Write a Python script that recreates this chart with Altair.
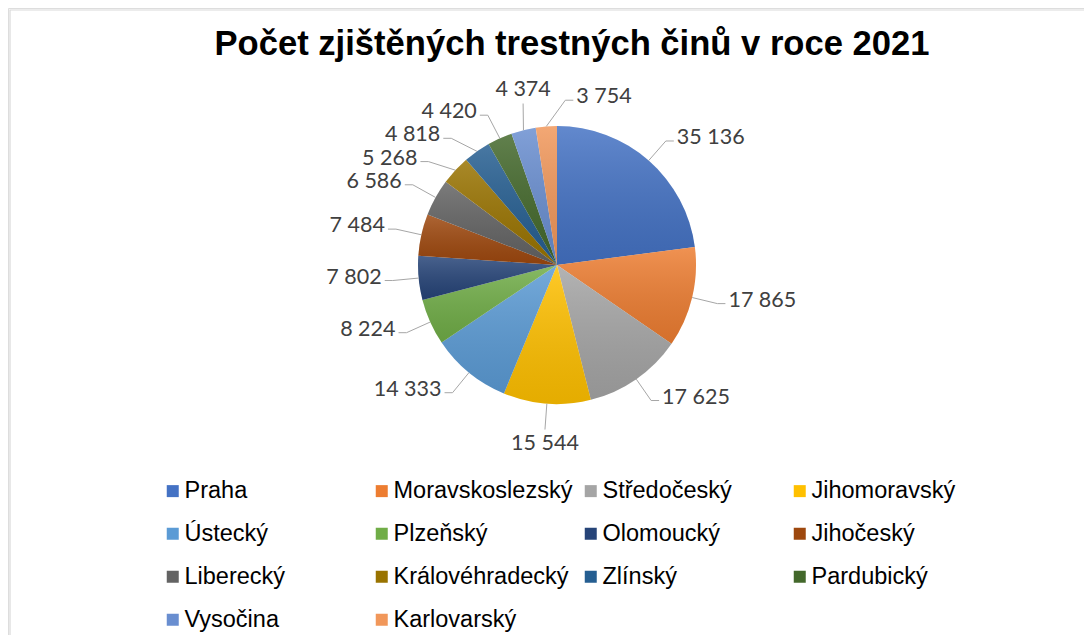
import numpy as np
import pandas as pd
import altair as alt

# ---------------- data ----------------
regions = ["Praha", "Moravskoslezský", "Středočeský", "Jihomoravský", "Ústecký",
           "Plzeňský", "Olomoucký", "Jihočeský", "Liberecký", "Královéhradecký",
           "Zlínský", "Pardubický", "Vysočina", "Karlovarský"]
counts = [35136, 17865, 17625, 15544, 14333, 8224, 7802, 7484, 6586, 5268,
          4818, 4420, 4374, 3754]
colors = ["#4472C4", "#ED7D31", "#A5A5A5", "#FFC000", "#5B9BD5", "#70AD47",
          "#264478", "#9E480E", "#636363", "#997300", "#255E91", "#43682B",
          "#698ED0", "#F1975A"]
title_text = "Počet zjištěných trestných činů v roce 2021"

# ---------------- layout constants ----------------
W, H = 1076, 627
CX, CY, R = 549, 257, 139
RA = 165          # radius where leader lines end
LH = 20           # label box height
FONT_LBL = "Lato"

df = pd.DataFrame({"region": regions, "count": counts, "idx": range(len(regions))})

# ---------------- label placement (computed from the data) ----------------
total = float(sum(counts))
cum = np.cumsum([0] + counts)
mid = [(cum[i] + counts[i] / 2) / total * 360.0 for i in range(len(counts))]
texts = [f"{v:,}".replace(",", " ") for v in counts]
widths = [sum(4.5 if ch == " " else 12.0 for ch in t) for t in texts]


def geom(b, w):
    rad = np.radians(b)
    s, c = np.sin(rad), np.cos(rad)
    ax, ay = CX + RA * s, CY - RA * c
    if s > 0.3 or (c > 0 and s > 0.05):
        side, tail = "L", (ax + 8, ay)
        tx, ty = ax + 11, ay - 3
        box = (tx, ty - LH / 2, tx + w, ty + LH / 2)
    elif s < -0.3:
        side, tail = "R", (ax - 8, ay)
        tx, ty = ax - 11, ay - 3
        box = (tx - w, ty - LH / 2, tx, ty + LH / 2)
    else:
        side, tail = "C", (ax, ay)
        tx = ax
        ty = ay - 4 - LH / 2 if c > 0 else ay + 4 + LH / 2
        box = (tx - w / 2, ty - LH / 2, tx + w / 2, ty + LH / 2)
    return side, (ax, ay), tail, (tx, ty), box


def overlap(b1, b2, px=20, py=3):
    return not (b1[2] + px < b2[0] or b2[2] + px < b1[0] or
                b1[3] + py < b2[1] or b2[3] + py < b1[1])


n = len(counts)
b = list(mid)
for it in range(8000):
    moved = False
    for i in range(n):
        j = (i + 1) % n
        gi = geom(b[i], widths[i])[4]
        gj = geom(b[j], widths[j])[4]
        if overlap(gi, gj):
            b[i] -= 0.1
            b[j] += 0.1
            moved = True
    if not moved:
        break

lbl_rows, line_rows = [], []
for i in range(n):
    side, anc, tail, tpos, box = geom(b[i], widths[i])
    rad = np.radians(mid[i])
    ex, ey = CX + R * np.sin(rad), CY - R * np.cos(rad)
    lbl_rows.append({"text": texts[i], "side": side, "tx": tpos[0], "ty": tpos[1]})
    for k, (px, py) in enumerate([(ex, ey), anc, tail]):
        line_rows.append({"lid": i, "k": k, "px": px, "py": py})
lbl_df = pd.DataFrame(lbl_rows)
line_df = pd.DataFrame(line_rows)

# ---------------- chart ----------------
frame = alt.Chart(alt.Data(values=[{}])).mark_rect(
    fill="transparent", stroke="#D9D9D9", strokeWidth=1.2
).encode(x=alt.value(2), x2=alt.value(W + 40), y=alt.value(2), y2=alt.value(H + 40))

title = alt.Chart(alt.Data(values=[{}])).mark_text(
    text=title_text, font="Liberation Sans", fontSize=34.6, fontWeight="bold",
    color="#000000", align="center", baseline="alphabetic"
).encode(x=alt.value(564), y=alt.value(47))

base = alt.Chart(df).encode(
    theta=alt.Theta("count:Q", stack=True),
    order=alt.Order("idx:Q", sort="ascending"),
)

pie = base.mark_arc(outerRadius=R, strokeWidth=0).encode(
    x=alt.value(CX), y=alt.value(CY),
    color=alt.Color(
        "region:N",
        scale=alt.Scale(domain=regions, range=colors),
        legend=alt.Legend(
            orient="none", legendX=153, legendY=471, columns=4, title=None,
            direction="horizontal",
            symbolType="square", symbolSize=144, symbolStrokeWidth=0,
            labelFont="Liberation Sans", labelFontSize=23.5, labelColor="#000000",
            labelOffset=0, columnPadding=6, rowPadding=18, gridAlign="all",
            labelLimit=400, padding=0,
        ),
    ),
)

shade = base.mark_arc(
    outerRadius=R, strokeWidth=0,
    fill=alt.Gradient(
        gradient="linear", x1=0, y1=0, x2=0, y2=1,
        stops=[alt.GradientStop(offset=0, color="rgba(255,255,255,0.16)"),
               alt.GradientStop(offset=1, color="rgba(0,0,0,0.10)")],
    ),
).encode(x=alt.value(CX), y=alt.value(CY), detail="region:N")

leaders = alt.Chart(line_df).mark_line(color="#A6A6A6", strokeWidth=1).encode(
    x=alt.X("px:Q", scale=None), y=alt.Y("py:Q", scale=None),
    detail="lid:N", order="k:Q",
)

def label_layer(side, align):
    return alt.Chart(lbl_df).transform_filter(alt.datum.side == side).mark_text(
        font=FONT_LBL, fontSize=21.5, color="#404040", align=align, baseline="middle"
    ).encode(x=alt.X("tx:Q", scale=None), y=alt.Y("ty:Q", scale=None), text="text:N")

chart = alt.layer(
    frame, title, pie, shade, leaders,
    label_layer("L", "left"), label_layer("R", "right"), label_layer("C", "center"),
).resolve_scale(color="independent").properties(
    width=W, height=H, padding=0,
    autosize=alt.AutoSizeParams(type="none"),
).configure_view(strokeWidth=0).configure(background="white")

chart.save("out.html", embed_options={"renderer": "svg", "actions": False})
